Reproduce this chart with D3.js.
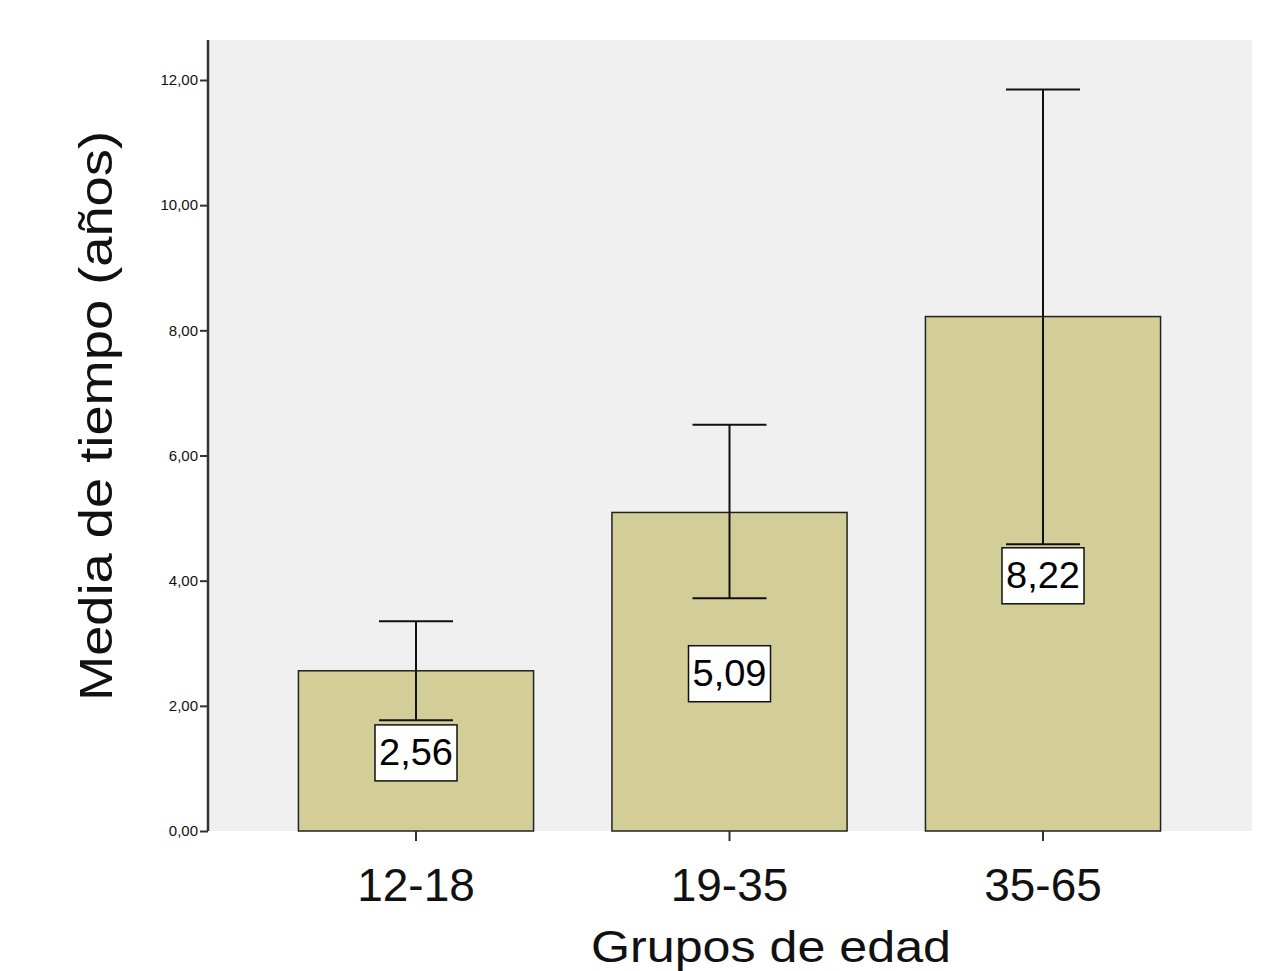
<!DOCTYPE html><html><head><meta charset="utf-8">
<script src="https://d3js.org/d3.v7.min.js"></script>
<style>body{margin:0;background:#fff}text{font-family:Arial,"Liberation Sans",sans-serif}</style></head><body>
<svg id="c" width="1287" height="971"></svg>
<script>
const categories=["12-18","19-35","35-65"];
const means=[2.56,5.09,8.22];
const lower=[1.77,3.72,4.58];
const upper=[3.35,6.49,11.85];
const labels=["2,56","5,09","8,22"];
const yTicks=[0,2,4,6,8,10,12];
const svg=d3.select("#c");
const L=208,R=1252,T=40,B=831;
const x=d3.scaleBand().domain(categories).range([259.25,1199.75]).paddingInner(0.25).paddingOuter(0.125);
const y=d3.scaleLinear().domain([0,12]).range([B,80]);
svg.append("rect").attr("x",L).attr("y",T).attr("width",R-L).attr("height",B-T).attr("fill","#f0f0f0");
const g=svg.append("g");
categories.forEach((c,i)=>{
  const cx=x(c)+x.bandwidth()/2;
  g.append("rect").attr("x",x(c)).attr("y",y(means[i])).attr("width",x.bandwidth()).attr("height",B-y(means[i])).attr("fill","#d3ce98").attr("stroke","#222").attr("stroke-width",1.5);
  g.append("line").attr("x1",cx).attr("x2",cx).attr("y1",y(upper[i])).attr("y2",y(lower[i])).attr("stroke","#111").attr("stroke-width",2);
  [upper[i],lower[i]].forEach(v=>g.append("line").attr("x1",cx-37).attr("x2",cx+37).attr("y1",y(v)).attr("y2",y(v)).attr("stroke","#111").attr("stroke-width",2));
  const ly=y(means[i]/2);
  g.append("rect").attr("x",cx-41).attr("y",ly-26).attr("width",82).attr("height",56).attr("fill","#fff").attr("stroke","#111").attr("stroke-width",1.5);
  g.append("text").attr("x",cx).attr("y",ly+14).attr("text-anchor","middle").attr("font-size",36).attr("textLength",74).attr("lengthAdjust","spacingAndGlyphs").text(labels[i]);
});
const ya=svg.append("g").attr("transform",`translate(${L},0)`).call(d3.axisLeft(y).tickValues(yTicks).tickSize(8).tickPadding(2).tickFormat(d=>d3.format(".2f")(d).replace(".",",")));
ya.select(".domain").attr("d",`M0,${T}V${B}`).attr("stroke","#333").attr("stroke-width",2.5);
ya.selectAll("text").attr("font-size",15).attr("fill","#111");
ya.selectAll(".tick line").attr("stroke","#333").attr("stroke-width",2);
const xa=svg.append("g").attr("transform",`translate(0,${B})`).call(d3.axisBottom(x).tickSize(10).tickSizeOuter(0));
xa.select(".domain").remove();
xa.selectAll(".tick line").attr("stroke","#333").attr("stroke-width",2);
xa.selectAll("text").attr("font-size",46).attr("fill","#111").attr("y",0).attr("dy",0).attr("transform","translate(0,70)");
svg.append("text").attr("x",771).attr("y",962).attr("text-anchor","middle").attr("font-size",44).attr("fill","#111").attr("textLength",360).attr("lengthAdjust","spacingAndGlyphs").text("Grupos de edad");
svg.append("text").attr("transform","translate(112,416) rotate(-90)").attr("text-anchor","middle").attr("font-size",46).attr("fill","#111").attr("textLength",570).attr("lengthAdjust","spacingAndGlyphs").text("Media de tiempo  (años)");
</script></body></html>
